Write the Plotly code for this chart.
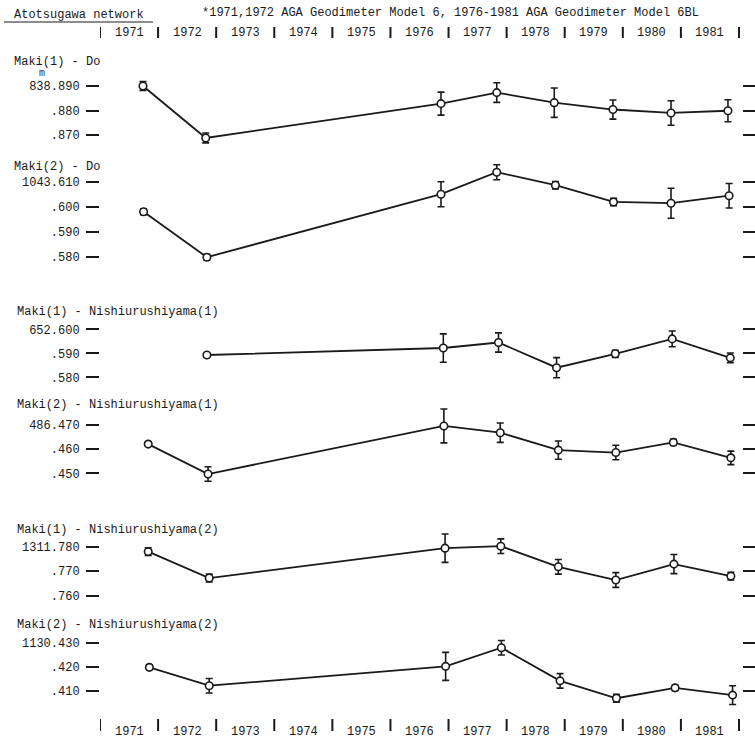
import plotly.graph_objects as go

W, H = 755, 742

header_title = "*1971,1972 AGA Geodimeter Model 6, 1976-1981 AGA Geodimeter Model 6BL"
network_name = "Atotsugawa network"
years = [1971, 1972, 1973, 1974, 1975, 1976, 1977, 1978, 1979, 1980, 1981]

panel_titles = [
    "Maki(1) - Do",
    "Maki(2) - Do",
    "Maki(1) - Nishiurushiyama(1)",
    "Maki(2) - Nishiurushiyama(1)",
    "Maki(1) - Nishiurushiyama(2)",
    "Maki(2) - Nishiurushiyama(2)",
]

# Panel 1: Maki(1) - Do
p1_dates = [1971.74, 1972.82, 1976.87, 1977.83, 1978.82, 1979.83, 1980.83, 1981.81]
p1_values = [838.8900, 838.8688, 838.8828, 838.8873, 838.8832, 838.8804, 838.8790, 838.8799]
p1_errors = [0.0018, 0.0020, 0.0047, 0.0040, 0.0060, 0.0039, 0.0050, 0.0045]
p1_ticks = [838.890, 838.880, 838.870]
p1_ticktext = ["838.890", ".880", ".870"]

# Panel 2: Maki(2) - Do
p2_dates = [1971.75, 1972.84, 1976.87, 1977.83, 1978.84, 1979.84, 1980.83, 1981.83]
p2_values = [1043.5980, 1043.5798, 1043.6050, 1043.6138, 1043.6086, 1043.6019, 1043.6014, 1043.6044]
p2_errors = [0.0012, 0.0012, 0.0050, 0.0030, 0.0015, 0.0015, 0.0060, 0.0049]
p2_ticks = [1043.610, 1043.600, 1043.590, 1043.580]
p2_ticktext = ["1043.610", ".600", ".590", ".580"]

# Panel 3: Maki(1) - Nishiurushiyama(1)
p3_dates = [1972.84, 1976.91, 1977.86, 1978.86, 1979.87, 1980.85, 1981.85]
p3_values = [652.5893, 652.5922, 652.5945, 652.5840, 652.5898, 652.5960, 652.5881]
p3_errors = [0.0008, 0.0059, 0.0040, 0.0042, 0.0015, 0.0033, 0.0020]
p3_ticks = [652.600, 652.590, 652.580]
p3_ticktext = ["652.600", ".590", ".580"]

# Panel 4: Maki(2) - Nishiurushiyama(1)
p4_dates = [1971.83, 1972.86, 1976.92, 1977.89, 1978.89, 1979.88, 1980.87, 1981.86]
p4_values = [486.4621, 486.4497, 486.4696, 486.4668, 486.4596, 486.4586, 486.4628, 486.4564]
p4_errors = [0.0008, 0.0030, 0.0070, 0.0040, 0.0038, 0.0030, 0.0013, 0.0028]
p4_ticks = [486.470, 486.460, 486.450]
p4_ticktext = ["486.470", ".460", ".450"]

# Panel 5: Maki(1) - Nishiurushiyama(2)
p5_dates = [1971.83, 1972.88, 1976.94, 1977.90, 1978.89, 1979.88, 1980.88, 1981.86]
p5_values = [1311.7780, 1311.7672, 1311.7794, 1311.7802, 1311.7718, 1311.7664, 1311.7729, 1311.7680]
p5_errors = [0.0016, 0.0016, 0.0058, 0.0030, 0.0030, 0.0030, 0.0039, 0.0016]
p5_ticks = [1311.780, 1311.770, 1311.760]
p5_ticktext = ["1311.780", ".770", ".760"]

# Panel 6: Maki(2) - Nishiurushiyama(2)
p6_dates = [1971.85, 1972.88, 1976.95, 1977.91, 1978.92, 1979.89, 1980.90, 1981.89]
p6_values = [1130.4198, 1130.4122, 1130.4202, 1130.4279, 1130.4142, 1130.4070, 1130.4113, 1130.4083]
p6_errors = [0.0010, 0.0030, 0.0058, 0.0030, 0.0030, 0.0016, 0.0012, 0.0039]
p6_ticks = [1130.430, 1130.420, 1130.410]
p6_ticktext = ["1130.430", ".420", ".410"]

dates_all = [p1_dates, p2_dates, p3_dates, p4_dates, p5_dates, p6_dates]
values_all = [p1_values, p2_values, p3_values, p4_values, p5_values, p6_values]
errors_all = [p1_errors, p2_errors, p3_errors, p4_errors, p5_errors, p6_errors]
ticks_all = [p1_ticks, p2_ticks, p3_ticks, p4_ticks, p5_ticks, p6_ticks]
ticktext_all = [p1_ticktext, p2_ticktext, p3_ticktext, p4_ticktext, p5_ticktext, p6_ticktext]

# ---- layout geometry (pixels) ----
# (pixel of top tick, pixels per unit, domain top px, domain bottom px)
geom = [
    (86.0, 2450.0, 70, 152),
    (181.7, 2500.0, 160, 270),
    (329.3, 2400.0, 318, 392),
    (425.0, 2415.0, 405, 490),
    (546.7, 2450.0, 528, 612),
    (642.7, 2415.0, 625, 712),
]
title_px = [62, 167, 312, 405, 530, 625]

X_LEFT, X_RIGHT = 100, 742
PX_PER_YEAR = 58.09
x_range = [1971.0, 1971.0 + (X_RIGHT - X_LEFT) / PX_PER_YEAR]

FONT = "Liberation Mono, Courier New, monospace"
INK = "#1a1a1a"

fig = go.Figure()
layout = dict(
    width=W, height=H,
    margin=dict(l=0, r=0, t=0, b=0),
    paper_bgcolor="white", plot_bgcolor="white",
    showlegend=False,
    font=dict(family=FONT, size=12, color=INK),
    xaxis=dict(domain=[X_LEFT / W, X_RIGHT / W], range=x_range, visible=False, anchor="y"),
)

annotations = []
shapes = []

for i in range(6):
    yname = "y" if i == 0 else f"y{i+1}"
    ykey = "yaxis" if i == 0 else f"yaxis{i+1}"
    p0, s, a, b = geom[i]
    v0 = ticks_all[i][0]
    rng = [v0 - (b - p0) / s, v0 + (p0 - a) / s]
    layout[ykey] = dict(
        domain=[1 - b / H, 1 - a / H],
        range=rng,
        anchor="x",
        tickvals=ticks_all[i],
        ticktext=ticktext_all[i],
        ticks="outside", ticklen=13, tickwidth=2, tickcolor=INK,
        mirror="ticks", showline=False, showgrid=False, zeroline=False,
        tickfont=dict(family=FONT, size=12, color=INK),
        ticklabelstandoff=4,
    )
    fig.add_trace(go.Scatter(
        x=dates_all[i], y=values_all[i],
        xaxis="x", yaxis=yname,
        mode="lines+markers",
        line=dict(color=INK, width=1.8),
        marker=dict(symbol="circle", size=7.5, color="white", line=dict(color=INK, width=1.6)),
        error_y=dict(type="data", array=errors_all[i], visible=True,
                     color=INK, thickness=1.6, width=3.5),
        cliponaxis=False,
    ))
    annotations.append(dict(
        text=panel_titles[i], xref="paper", yref="paper",
        x=12 / W if i < 2 else 15 / W, y=1 - title_px[i] / H,
        xanchor="left", yanchor="middle", showarrow=False,
        font=dict(family=FONT, size=12, color=INK),
    ))

# unit mark under first panel title
annotations.append(dict(text="m", xref="paper", yref="paper", x=42 / W, y=1 - 73 / H,
                        xanchor="center", yanchor="middle", showarrow=False,
                        font=dict(family=FONT, size=10, color="#333333")))

# header texts
annotations.append(dict(text=network_name, xref="paper", yref="paper", x=12 / W, y=1 - 15 / H,
                        xanchor="left", yanchor="middle", showarrow=False,
                        font=dict(family=FONT, size=12, color=INK)))
shapes.append(dict(type="line", xref="paper", yref="paper", x0=4 / W, x1=153 / W,
                   y0=1 - 22 / H, y1=1 - 22 / H, line=dict(color=INK, width=1)))
annotations.append(dict(text=header_title, xref="paper", yref="paper", x=200 / W, y=1 - 13 / H,
                        xanchor="left", yanchor="middle", showarrow=False,
                        font=dict(family=FONT, size=12, color=INK)))

# year rows (top and bottom)
for (bar_top, bar_bot, text_y) in [(27, 38, 33), (719, 731, 732)]:
    for yr in years:
        annotations.append(dict(text=str(yr), xref="x", yref="paper", x=yr + 0.5,
                                y=1 - text_y / H, xanchor="center", yanchor="middle",
                                showarrow=False, font=dict(family=FONT, size=12, color=INK)))
    for yr in years + [years[-1] + 1]:
        shapes.append(dict(type="line", xref="x", yref="paper", x0=yr, x1=yr,
                           y0=1 - bar_bot / H, y1=1 - bar_top / H,
                           line=dict(color=INK, width=2)))

layout["annotations"] = annotations
layout["shapes"] = shapes
fig.update_layout(**layout)
fig.write_html("out.html")
